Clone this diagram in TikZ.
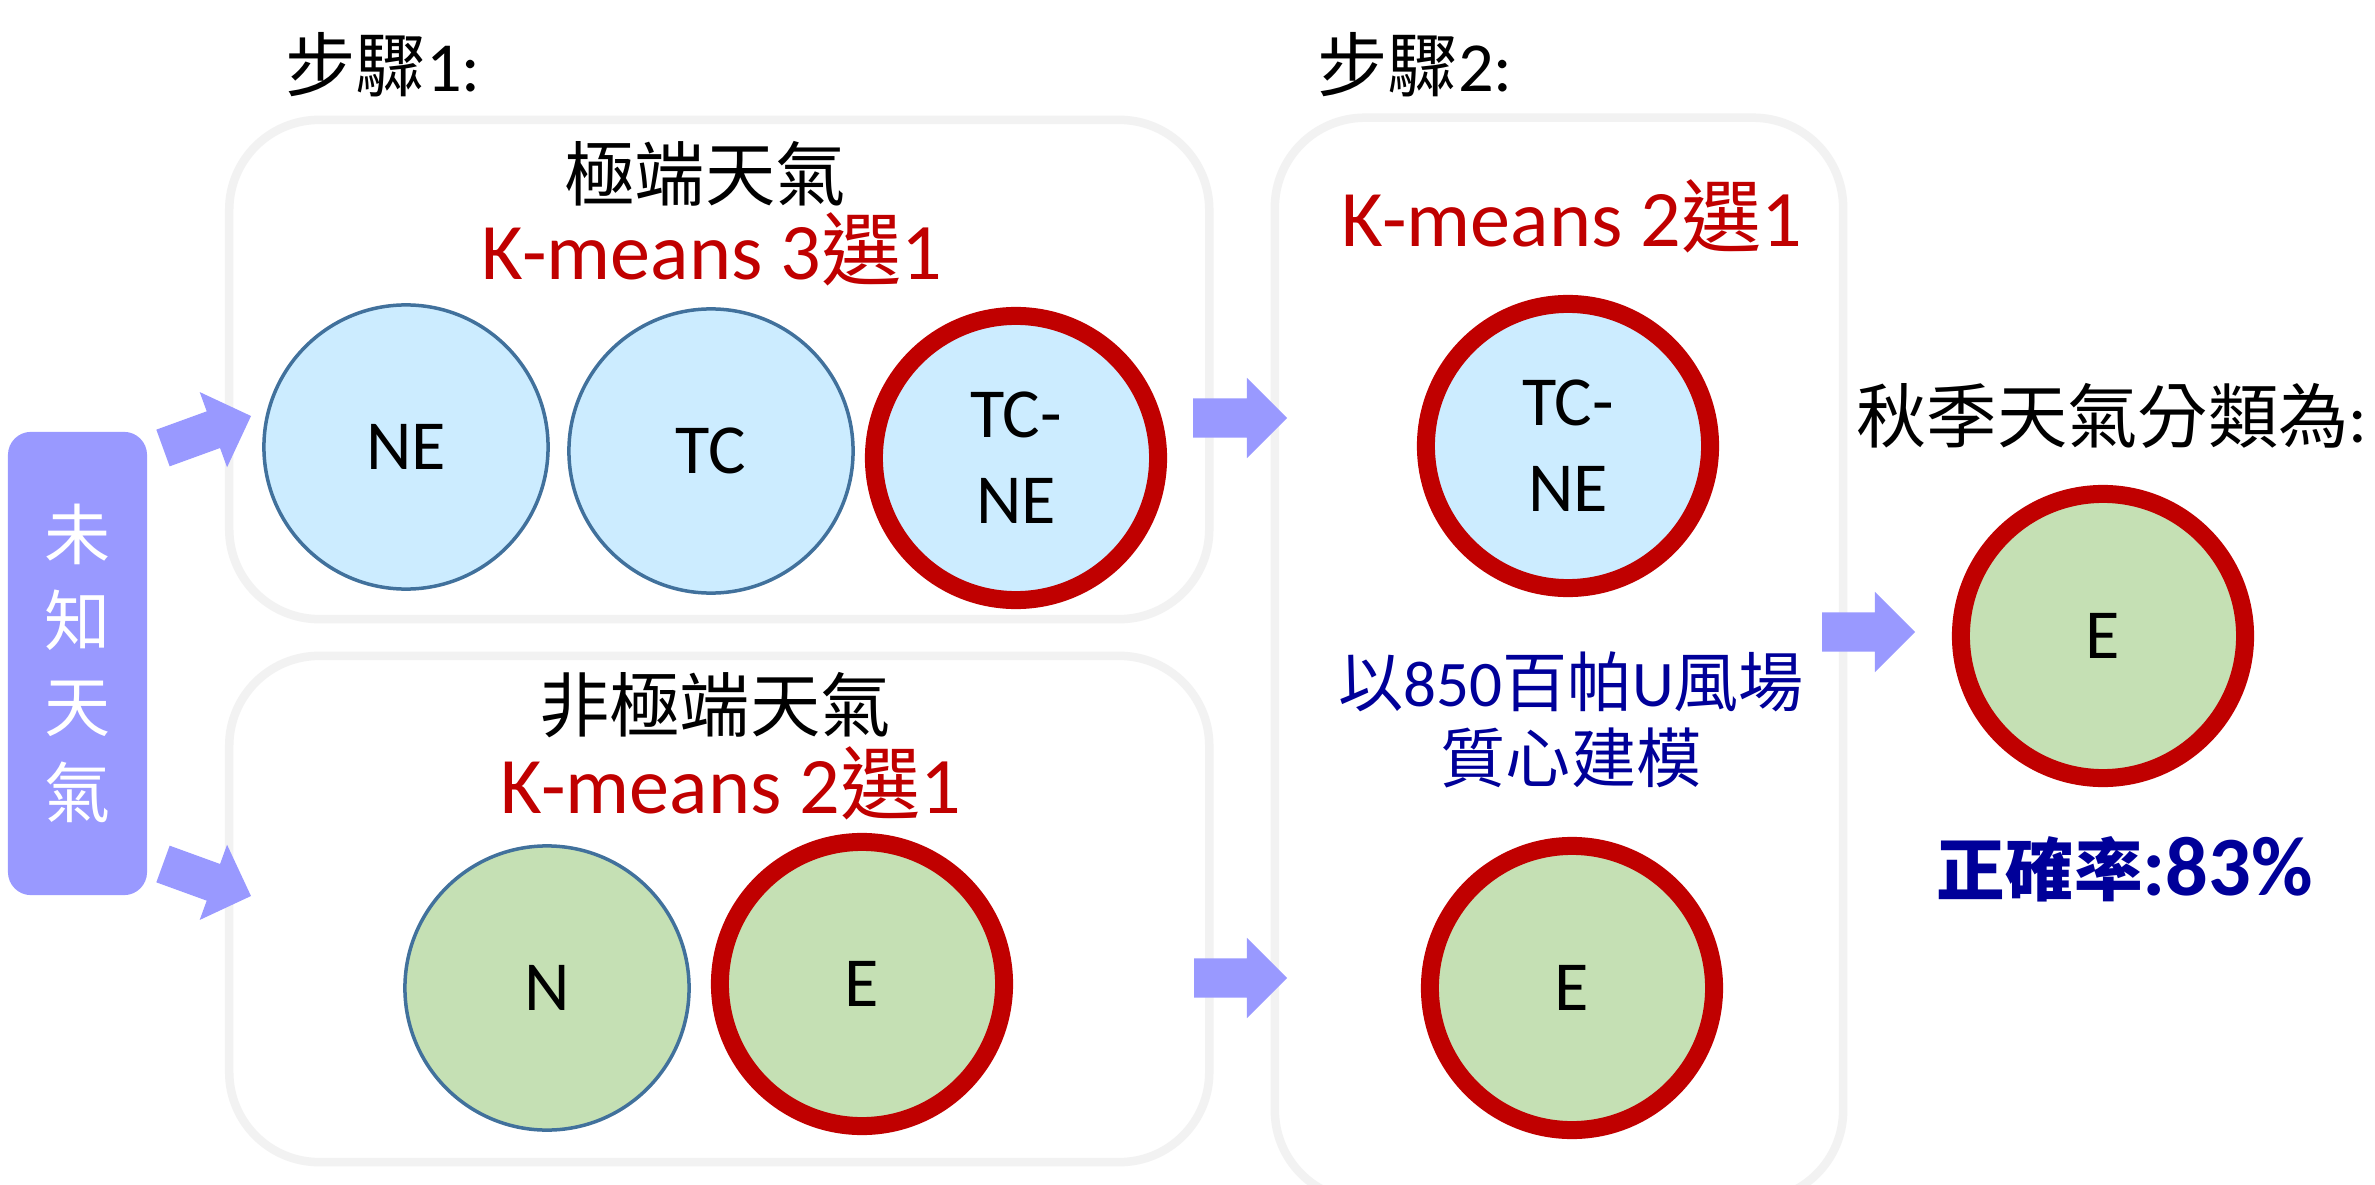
\documentclass[tikz,border=0pt]{standalone}
\usepackage{fontspec}
\setmainfont{Carlito}
\newfontfamily\cjk{Noto Sans CJK TC}
\usetikzlibrary{calc}

\definecolor{panelgray}{HTML}{F2F2F2}
\definecolor{arrowblue}{HTML}{9999FF}
\definecolor{clusterblue}{HTML}{CCECFF}
\definecolor{clustergreen}{HTML}{C5E0B4}
\definecolor{outlineblue}{HTML}{41719C}
\definecolor{pickred}{HTML}{C00000}
\definecolor{navy}{HTML}{000099}

% wide block arrow from coordinate #1 (tail) to coordinate #2 (tip)
\newcommand\blockarrow[2]{%
  \path ($(#2)!0.4cm!(#1)$) coordinate (#1-hb);
  \fill[arrowblue] ($(#1)!0.195cm!90:(#2)$) -- ($(#1-hb)!0.195cm!90:(#2)$)
    -- ($(#1-hb)!0.4cm!90:(#2)$) -- (#2) -- ($(#1-hb)!0.4cm!-90:(#2)$)
    -- ($(#1-hb)!0.195cm!-90:(#2)$) -- ($(#1)!0.195cm!-90:(#2)$) -- cycle;}

\tikzset{
  panel/.style={draw=panelgray, line width=0.085cm, rounded corners=0.9cm, inner sep=0pt},
  cluster/.style={circle, inner sep=0pt, minimum size=2.84cm,
    font=\fontsize{20}{24.5}\selectfont, align=center},
  plain/.style={cluster, draw=outlineblue, line width=0.035cm},
  chosen/.style={cluster, draw=pickred, line width=0.18cm},
  extremefill/.style={fill=clusterblue},
  normalfill/.style={fill=clustergreen},
  heading/.style={font=\fontsize{20}{24}\selectfont\cjk},
  kmeans/.style={text=pickred, font=\fontsize{22.8}{27}\selectfont},
  note/.style={text=navy, font=\fontsize{18.5}{21.6}\selectfont, align=center},
}

\begin{document}
\begin{tikzpicture}[x=0.01cm, y=-0.01cm]
\useasboundingbox (0,0) rectangle (2375,1185);
\fill[white] (0,0) rectangle (2375,1185);

% panels
\node[panel, minimum width=9.795cm, minimum height=4.99cm] (step1a) at (719.25,369.5) {};
\node[panel, minimum width=9.795cm, minimum height=5.06cm] (step1b) at (719.25,909) {};
\node[panel, minimum width=5.68cm, minimum height=10.82cm] (step2) at (1559,659) {};

% input box
\node[fill=arrowblue, rounded corners=0.23cm, minimum width=1.39cm, minimum height=4.63cm,
      inner sep=0pt, text=white, align=center,
      font=\fontsize{18.8}{24.5}\selectfont\cjk] (unknown) at (77.5,663.5) {未\\知\\天\\氣};

% arrows
\coordinate (in1s) at (163,448);   \coordinate (in1e) at (251,416);
\coordinate (in2s) at (163,864);   \coordinate (in2e) at (251,896);
\coordinate (mid1s) at (1193,418); \coordinate (mid1e) at (1287,418);
\coordinate (mid2s) at (1194,978); \coordinate (mid2e) at (1287,978);
\coordinate (outs) at (1822,632);  \coordinate (oute) at (1915,632);
\blockarrow{in1s}{in1e}
\blockarrow{in2s}{in2e}
\blockarrow{mid1s}{mid1e}
\blockarrow{mid2s}{mid2e}
\blockarrow{outs}{oute}

% step titles
\node[heading] (title1) at (383,65) {步驟{\normalfont 1:}};
\node[heading] (title2) at (1415,65) {步驟{\normalfont 2:}};

% extreme weather panel
\node[heading] (ext) at (705,174) {極端天氣};
\node[kmeans] (ext-k) at (712,249) {K-means 3{\cjk 選}1};
\node[plain, extremefill] (ne) at (406,447) {NE};
\node[plain, extremefill] (tc) at (711,451) {TC};
\node[chosen, extremefill] (tcne) at (1016,458) {TC-\\NE};

% non-extreme weather panel
\node[heading] (nonext) at (715,705) {非極端天氣};
\node[kmeans] (nonext-k) at (731,783) {K-means 2{\cjk 選}1};
\node[plain, normalfill] (n) at (547,988) {N};
\node[chosen, normalfill] (e) at (862,984) {E};

% step 2 panel
\node[kmeans] (step2-k) at (1572,216) {K-means 2{\cjk 選}1};
\node[chosen, extremefill] (tcne2) at (1568,446) {TC-\\NE};
\node[note] (method) at (1571,720) {{\cjk 以}850{\cjk 百帕}U{\cjk 風場}\\{\cjk 質心建模}};
\node[chosen, normalfill] (e2) at (1572,988) {E};

% result
\node[heading] (result) at (2112,416) {秋季天氣分類為{\normalfont :}};
\node[chosen, normalfill] (final) at (2103,636) {E};
\node[text=navy, font=\fontsize{24}{28}\selectfont\bfseries] (acc) at (2125,869)
  {{\cjk\fontsize{19.5}{24}\selectfont 正確率}:83\%};
\end{tikzpicture}
\end{document}
